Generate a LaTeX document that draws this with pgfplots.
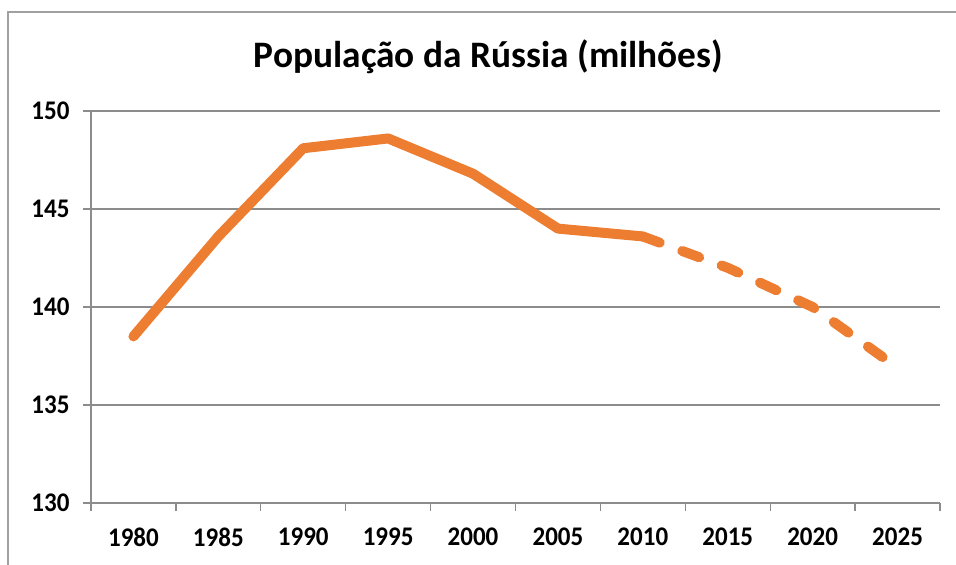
\documentclass[border=0pt]{standalone}
\usepackage{fontspec}
\setmainfont{Carlito}
\newfontfamily\tickfont[FakeStretch=0.93]{Carlito}
\usepackage{pgfplots}
\pgfplotsset{compat=1.18}
\definecolor{lineorange}{HTML}{ED7D31}
\definecolor{axisgray}{HTML}{8C8C8C}
\definecolor{framegray}{HTML}{A0A0A0}

\pgfplotstableread{
x  pop
0  138.5
1  143.6
2  148.1
3  148.6
4  146.8
5  144.0
6  143.6
}\observed
\pgfplotstableread{
x  pop
6  143.6
7  142.0
8  140.0
9  136.9
}\forecast

\begin{document}
\begin{tikzpicture}
\useasboundingbox (-91bp,-62bp) rectangle (865bp,503bp);
\draw[framegray, line width=1.5bp] (-83bp,-62bp) -- (-83bp,491bp) -- (865bp,491bp);
\node[font=\bfseries\fontsize{37.5}{42}\selectfont] at (397.5bp,446bp) {População da Rússia (milhões)};
\begin{axis}[
  at={(0,0)}, anchor=south west,
  scale only axis, width=849bp, height=392bp,
  xmin=-0.5, xmax=9.5, ymin=130, ymax=150,
  axis x line*=bottom, axis y line*=left,
  axis line style={axisgray, line width=1.3bp},
  xtick={0,...,9},
  xticklabels={1980,1985,1990,1995,2000,2005,2010,2015,2020,2025},
  minor xtick={-0.5,0.5,...,9.5},
  ytick={130,135,...,150},
  tick align=outside,
  major x tick style={draw=none},
  tick style={axisgray, line width=1.3bp},
  major tick length=8bp, minor tick length=8bp,
  ymajorgrids,
  grid style={axisgray, line width=1.3bp},
  /pgf/number format/assume math mode=true,
  ticklabel style={font=\tickfont\bfseries\fontsize{27}{32}\selectfont},
  xticklabel style={yshift=-13bp},
  yticklabel style={xshift=-10bp},
  clip=false,
]
\addplot[lineorange, line width=10bp, line join=round, line cap=round] table[x=x, y=pop] {\observed};
\addplot[lineorange, line width=10bp, line join=round, line cap=round, dash pattern=on 18bp off 24bp] table[x=x, y=pop] {\forecast};
\end{axis}
\end{tikzpicture}
\end{document}
